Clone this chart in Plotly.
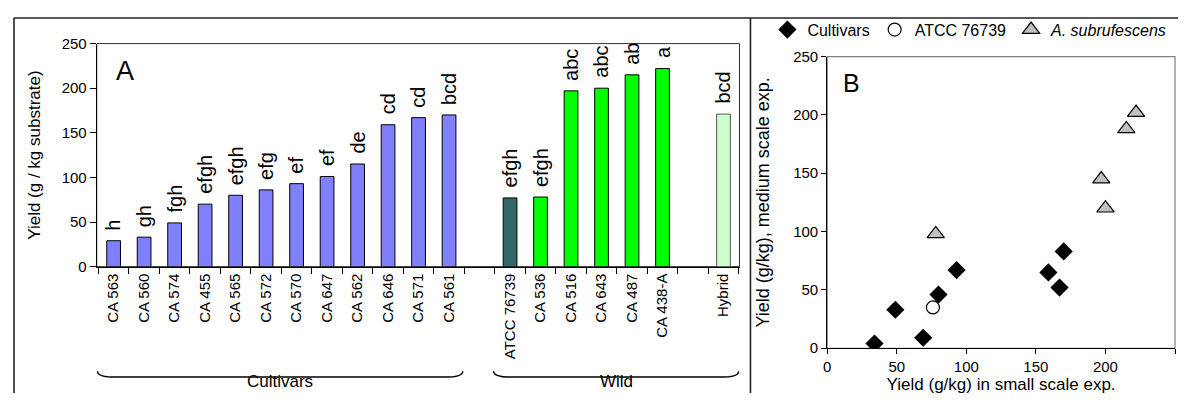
import plotly.graph_objects as go

# ---------------- Data (panel A) ----------------
cultivar_names = ["CA 563", "CA 560", "CA 574", "CA 455", "CA 565", "CA 572",
                  "CA 570", "CA 647", "CA 562", "CA 646", "CA 571", "CA 561"]
cultivar_yield = [29, 33, 49, 70, 80, 86, 93, 101, 115, 159, 167, 170]
cultivar_letters = ["h", "gh", "fgh", "efgh", "efgh", "efg", "ef", "ef", "de", "cd", "cd", "bcd"]

atcc_name = ["ATCC 76739"]
atcc_yield = [77]
atcc_letters = ["efgh"]

wild_names = ["CA 536", "CA 516", "CA 643", "CA 487", "CA 438-A"]
wild_yield = [78, 197, 200, 215, 222]
wild_letters = ["efgh", "abc", "abc", "ab", "a"]

hybrid_name = ["Hybrid"]
hybrid_yield = [171]
hybrid_letters = ["bcd"]

gap1 = " "
gap2 = "  "
category_order = cultivar_names + [gap1] + atcc_name + wild_names + [gap2] + hybrid_name

y_ticks_A = [0, 50, 100, 150, 200, 250]

# ---------------- Data (panel B) ----------------
cult_small = [34, 49, 69, 80, 93, 159, 167, 170]
cult_medium = [4, 33, 9, 46, 67, 65, 52, 83]
atcc_small = [76]
atcc_medium = [35]
subruf_small = [78, 197, 200, 215, 222]
subruf_medium = [98, 145, 120, 188, 202]
ticks_B = [0, 50, 100, 150, 200, 250]

FONT = "Arial, Liberation Sans, sans-serif"
OFF_X, OFF_Y = 8, 8      # default body margin of the html page
W, H = 1186 - 2 * OFF_X, 409 - 2 * OFF_Y
# vertical compensation observed for the page capture
SCALE_Y, SHIFT_Y = 0.961, 7.6


def px_x(p):
    return (p - OFF_X) / W


def px_y(t):
    p = (t - SHIFT_Y) / SCALE_Y
    return 1 - (p - OFF_Y) / H


fig = go.Figure()

bar_line = dict(color="black", width=1)
bw = 0.45
fig.add_trace(go.Bar(x=cultivar_names, y=cultivar_yield, width=bw,
                     marker=dict(color="#8080FF", line=bar_line),
                     xaxis="x", yaxis="y", showlegend=False, name="Cultivars"))
fig.add_trace(go.Bar(x=atcc_name, y=atcc_yield, width=bw,
                     marker=dict(color="#336666", line=bar_line),
                     xaxis="x", yaxis="y", showlegend=False, name="ATCC 76739"))
fig.add_trace(go.Bar(x=wild_names, y=wild_yield, width=bw,
                     marker=dict(color="#00FF00", line=bar_line),
                     xaxis="x", yaxis="y", showlegend=False, name="Wild"))
fig.add_trace(go.Bar(x=hybrid_name, y=hybrid_yield, width=bw,
                     marker=dict(color="#CCFFCC", line=dict(color="#555555", width=1)),
                     xaxis="x", yaxis="y", showlegend=False, name="Hybrid"))

annotations = []
all_names = cultivar_names + atcc_name + wild_names + hybrid_name
all_vals = cultivar_yield + atcc_yield + wild_yield + hybrid_yield
all_letters = cultivar_letters + atcc_letters + wild_letters + hybrid_letters
for n, v, l in zip(all_names, all_vals, all_letters):
    annotations.append(dict(x=n, y=v, xref="x", yref="y", text=l, textangle=-90,
                            showarrow=False, xanchor="center", yanchor="bottom",
                            yshift=8, font=dict(family=FONT, size=20, color="black")))

# Panel B scatter
fig.add_trace(go.Scatter(x=cult_small, y=cult_medium, mode="markers", name="Cultivars",
                         marker=dict(symbol="diamond", size=14, color="black"),
                         xaxis="x2", yaxis="y2"))
fig.add_trace(go.Scatter(x=atcc_small, y=atcc_medium, mode="markers", name="ATCC 76739",
                         marker=dict(symbol="circle-open", size=13, color="black",
                                     line=dict(width=1.2)),
                         xaxis="x2", yaxis="y2"))
fig.add_trace(go.Scatter(x=subruf_small, y=subruf_medium, mode="markers",
                         name="<i>A. subrufescens</i>",
                         marker=dict(symbol="triangle-up", size=15, color="#C0C0C0",
                                     line=dict(color="black", width=1.2)),
                         xaxis="x2", yaxis="y2"))

# panel letters
annotations.append(dict(x=0.027, y=0.955, xref="x domain", yref="y domain", text="A",
                        showarrow=False, xanchor="left", yanchor="top",
                        font=dict(family=FONT, size=27, color="black")))
annotations.append(dict(x=0.04, y=0.965, xref="x2 domain", yref="y2 domain", text="B",
                        showarrow=False, xanchor="left", yanchor="top",
                        font=dict(family=FONT, size=25, color="black")))

# group labels with braces
idx = {c: i for i, c in enumerate(category_order)}
cult_lo, cult_hi = idx[cultivar_names[0]] - 0.53, idx[cultivar_names[-1]] + 0.45
wild_lo, wild_hi = idx[atcc_name[0]] - 0.54, idx[hybrid_name[0]] + 0.5
brace_top = px_y(371)
brace_bot = px_y(377)
shapes = []
for lo, hi in [(cult_lo, cult_hi), (wild_lo, wild_hi)]:
    c = 0.6
    path = (f"M {lo},{brace_top} Q {lo},{brace_bot} {lo + c},{brace_bot} "
            f"L {hi - c},{brace_bot} Q {hi},{brace_bot} {hi},{brace_top}")
    shapes.append(dict(type="path", path=path, xref="x", yref="paper",
                       line=dict(color="black", width=1.5)))
# group names: kept fully inside the figure
annotations.append(dict(x=(cult_lo + cult_hi) / 2, y=0, xref="x", yref="paper",
                        text="Cultivars", showarrow=False, yanchor="bottom",
                        font=dict(family=FONT, size=17, color="black")))
annotations.append(dict(x=(wild_lo + wild_hi) / 2, y=0, xref="x", yref="paper",
                        text="Wild", showarrow=False, yanchor="bottom",
                        font=dict(family=FONT, size=17, color="black")))

# plot-area borders
shapes.append(dict(type="rect", xref="x domain", yref="y domain", x0=0, x1=1, y0=0, y1=1,
                   line=dict(color="#333333", width=1), layer="below"))
shapes.append(dict(type="rect", xref="x2 domain", yref="y2 domain", x0=0, x1=1, y0=0, y1=1,
                   line=dict(color="#808080", width=1.2), layer="below"))
# outer frame lines (kept inside the figure)
frame = dict(color="#222222", width=1.6)
top_y = min(px_y(15), 1 - 1.0 / H)
shapes.append(dict(type="line", xref="paper", yref="paper", x0=px_x(10), x1=1,
                   y0=top_y, y1=top_y, line=frame))
shapes.append(dict(type="line", xref="paper", yref="paper", x0=px_x(10), x1=px_x(10),
                   y0=top_y, y1=0, line=frame))
shapes.append(dict(type="line", xref="paper", yref="paper", x0=px_x(749), x1=px_x(749),
                   y0=top_y, y1=0, line=frame))

tickfont = dict(family=FONT, size=15, color="black")
fig.update_layout(
    width=W, height=H, autosize=False,
    margin=dict(l=0, r=0, t=0, b=0),
    paper_bgcolor="white", plot_bgcolor="white",
    bargap=0.5,
    xaxis=dict(domain=[px_x(93), px_x(738)], type="category",
               categoryorder="array", categoryarray=category_order,
               tickangle=-90, tickson="boundaries", ticks="outside", ticklen=6,
               tickcolor="black", showline=True, linecolor="black", linewidth=1,
               showgrid=False, zeroline=False,
               tickfont=dict(family=FONT, size=15, color="black"), anchor="y"),
    yaxis=dict(domain=[px_y(266), px_y(42)], range=[0, 250], tickvals=y_ticks_A,
               ticks="outside", ticklen=6, tickcolor="black", showline=True,
               linecolor="black", linewidth=1, showgrid=False, zeroline=False,
               tickfont=tickfont, anchor="x",
               title=dict(text="Yield (g / kg substrate)", standoff=16,
                          font=dict(family=FONT, size=17, color="black"))),
    xaxis2=dict(domain=[px_x(826), px_x(1175)], range=[0, 250], tickvals=ticks_B,
                ticks="outside", ticklen=5, tickcolor="black", showline=True,
                linecolor="black", linewidth=1, showgrid=False, zeroline=False,
                tickfont=tickfont, anchor="y2",
                title=dict(text="Yield (g/kg) in small scale exp.", standoff=2,
                           font=dict(family=FONT, size=17, color="black"))),
    yaxis2=dict(domain=[px_y(348), px_y(55)], range=[0, 250], tickvals=ticks_B,
                ticks="outside", ticklen=5, tickcolor="black", showline=True,
                linecolor="black", linewidth=1, showgrid=False, zeroline=False,
                tickfont=tickfont, anchor="x2",
                title=dict(text="Yield (g/kg), medium scale exp.", standoff=18,
                           font=dict(family=FONT, size=18, color="black"))),
    legend=dict(orientation="h", x=px_x(766), y=px_y(28), xanchor="left", yanchor="middle",
                font=dict(family=FONT, size=16, color="black"), itemwidth=30,
                bgcolor="rgba(0,0,0,0)", tracegroupgap=0),
    showlegend=True,
    annotations=annotations,
    shapes=shapes,
)

fig.write_html("out.html", config={"displayModeBar": False})
